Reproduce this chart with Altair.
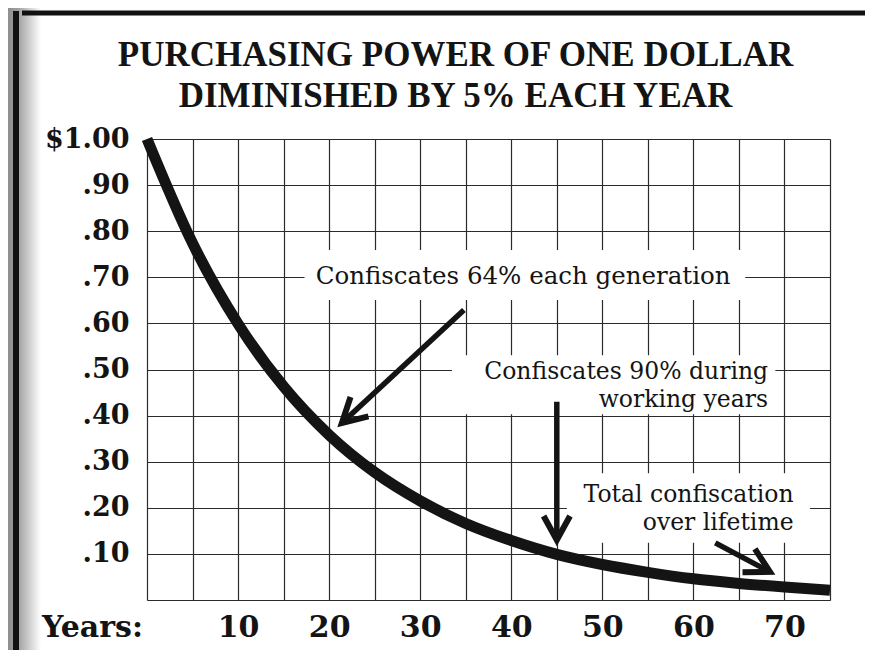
import math
import altair as alt
import pandas as pd

# ---- data ----
years = [0, 5, 10, 15, 20, 25, 30, 35, 40, 45, 50, 55, 60, 65, 70, 75]
values = [1.00, 0.774, 0.599, 0.463, 0.358, 0.277, 0.215, 0.166, 0.129, 0.099,
          0.077, 0.060, 0.046, 0.036, 0.028, 0.021]

x_grid = [0, 5, 10, 15, 20, 25, 30, 35, 40, 45, 50, 55, 60, 65, 70, 75]
x_label_values = [10, 20, 30, 40, 50, 60, 70]
x_label_texts = ["10", "20", "30", "40", "50", "60", "70"]
y_grid = [0.0, 0.1, 0.2, 0.3, 0.4, 0.5, 0.6, 0.7, 0.8, 0.9, 1.0]
y_label_values = [0.1, 0.2, 0.3, 0.4, 0.5, 0.6, 0.7, 0.8, 0.9, 1.0]
y_label_texts = [".10", ".20", ".30", ".40", ".50", ".60", ".70", ".80", ".90", "$1.00"]

title_lines = ["PURCHASING POWER OF ONE DOLLAR", "DIMINISHED BY 5% EACH YEAR"]
years_word = ["Years:"]

center_note_text = ["Confiscates 64% each generation"]
center_note_x = [41.3]
center_note_y = [0.685]

right_note_text = ["Confiscates 90% during", "working years", "Total confiscation", "over lifetime"]
right_note_x = [68.2, 68.2, 71.0, 71.0]
right_note_y = [0.479, 0.419, 0.212, 0.151]

box_x1 = [17.3, 33.5, 46.1]
box_x2 = [65.7, 69.0, 72.8]
box_y1 = [0.651, 0.403, 0.124]
box_y2 = [0.759, 0.531, 0.275]

arrow_x1 = [34.8, 45.0, 62.4]
arrow_y1 = [0.629, 0.430, 0.124]
arrow_x2 = [21.4, 45.0, 68.4]
arrow_y2 = [0.384, 0.130, 0.061]

# ---- layout ----
W, H = 683, 461
X_MAX = 75
sx = W / X_MAX
sy = H / 1.0

xs = alt.Scale(domain=[0, X_MAX], nice=False, zero=False)
ys = alt.Scale(domain=[0, 1], nice=False, zero=False)

def label_expr(vals, labs):
    parts = [f"abs(datum.value - {v}) < 0.001 ? '{l}'" for v, l in zip(vals, labs)]
    return " : ".join(parts) + " : ''"

LABEL_FONT = "DejaVu Serif"
NOTE_FONT = "DejaVu Serif"
INK = "#141414"
GRID = "#2b2b2b"

x_axis = alt.Axis(
    values=x_grid, grid=True, gridColor=GRID, gridWidth=1.2, gridOpacity=1,
    ticks=False, domain=False, title=None,
    labelExpr=label_expr(x_label_values, x_label_texts),
    labelFont=LABEL_FONT, labelFontWeight="bold", labelFontSize=30,
    labelColor=INK, labelPadding=12, labelFlush=False, labelOverlap=False)
y_axis = alt.Axis(
    values=y_grid, grid=True, gridColor=GRID, gridWidth=1.2, gridOpacity=1,
    ticks=False, domain=False, title=None,
    labelExpr=label_expr(y_label_values, y_label_texts),
    labelFont=LABEL_FONT, labelFontWeight="bold", labelFontSize=27,
    labelColor=INK, labelPadding=18, labelFlush=False, labelOverlap=False,
    labelBaseline="middle")

def X(f="x:Q"):
    return alt.X(f, scale=xs, axis=x_axis, title=None)

def Y(f="y:Q"):
    return alt.Y(f, scale=ys, axis=y_axis, title=None)

curve_df = pd.DataFrame({"x": years, "y": values})
box_df = pd.DataFrame({"x": box_x1, "x2": box_x2, "y": box_y1, "y2": box_y2})
arrow_df = pd.DataFrame({"x": arrow_x1, "y": arrow_y1, "x2": arrow_x2, "y2": arrow_y2})
angles = []
for a, b, c, d in zip(arrow_x1, arrow_y1, arrow_x2, arrow_y2):
    dx = (c - a) * sx
    dy = -(d - b) * sy
    angles.append(math.degrees(math.atan2(dx, -dy)) % 360)
head_df = pd.DataFrame({"x": arrow_x2, "y": arrow_y2, "angle": angles})
center_df = pd.DataFrame({"x": center_note_x, "y": center_note_y, "t": center_note_text})
right_df = pd.DataFrame({"x": right_note_x, "y": right_note_y, "t": right_note_text})
one = pd.DataFrame({"t": years_word})
title_df = pd.DataFrame({"t": ["\n".join(title_lines)]})

# ---- decorative scan frame ----
shade = alt.Chart(one).mark_rect(
    color=alt.Gradient(
        gradient="linear",
        stops=[alt.GradientStop(offset=0, color="#8e8e8e"),
               alt.GradientStop(offset=0.3, color="#a0a0a0"),
               alt.GradientStop(offset=1, color="#ffffff")],
        x1=0, x2=1, y1=0, y2=0)
).encode(x=alt.value(-139), x2=alt.value(-106), y=alt.value(-131), y2=alt.value(H + 50))

left_bar = alt.Chart(one).mark_rule(color="#111", strokeWidth=6).encode(
    x=alt.value(-131), y=alt.value(-128), y2=alt.value(H + 50))
top_bar = alt.Chart(one).mark_rule(color="#111", strokeWidth=5).encode(
    x=alt.value(-125), x2=alt.value(W + 35), y=alt.value(-126))

title = alt.Chart(title_df).mark_text(
    font="Liberation Serif", fontSize=35, fontWeight="bold", color=INK,
    align="center", baseline="alphabetic", lineBreak="\n", lineHeight=41
).encode(text="t:N", x=alt.value(W / 2 - 33), y=alt.value(-73))

# ---- white boxes behind notes ----
boxes = alt.Chart(box_df).mark_rect(color="white").encode(
    x=X(), x2="x2:Q", y=Y(), y2="y2:Q")

curve = alt.Chart(curve_df).mark_line(
    color=INK, strokeWidth=11, interpolate="monotone", strokeCap="butt"
).encode(x=X(), y=Y())

shafts = alt.Chart(arrow_df).mark_rule(color=INK, strokeWidth=5.5, strokeCap="butt").encode(
    x=X(), y=Y(), x2="x2:Q", y2="y2:Q")

heads = alt.Chart(head_df).mark_point(
    shape="M -0.55 1 L 0 0 L 0.55 1", filled=False, stroke=INK, strokeWidth=6,
    strokeJoin="miter", strokeCap="butt", size=2304, opacity=1
).encode(x=X(), y=Y(), angle=alt.Angle("angle:Q", scale=None))

center_notes = alt.Chart(center_df).mark_text(
    font=NOTE_FONT, fontSize=24.5, color=INK, align="center", baseline="alphabetic"
).encode(x=X(), y=Y(), text="t:N")

right_notes = alt.Chart(right_df).mark_text(
    font=NOTE_FONT, fontSize=23.5, color=INK, align="right", baseline="alphabetic"
).encode(x=X(), y=Y(), text="t:N")

years_label = alt.Chart(one).mark_text(
    font=LABEL_FONT, fontWeight="bold", fontSize=30, color=INK,
    align="right", baseline="alphabetic"
).encode(text="t:N", x=alt.value(-4), y=alt.value(H + 37))

chart = alt.layer(
    shade, left_bar, top_bar, title, boxes, curve, shafts, heads,
    center_notes, right_notes, years_label
).properties(
    width=W, height=H,
    autosize=alt.AutoSizeParams(type="none"),
    padding={"left": 139, "top": 131, "right": 35, "bottom": 50},
).configure_view(stroke=None).configure(background="white")

chart.save("out.html", embed_options={"renderer": "svg", "actions": False})
